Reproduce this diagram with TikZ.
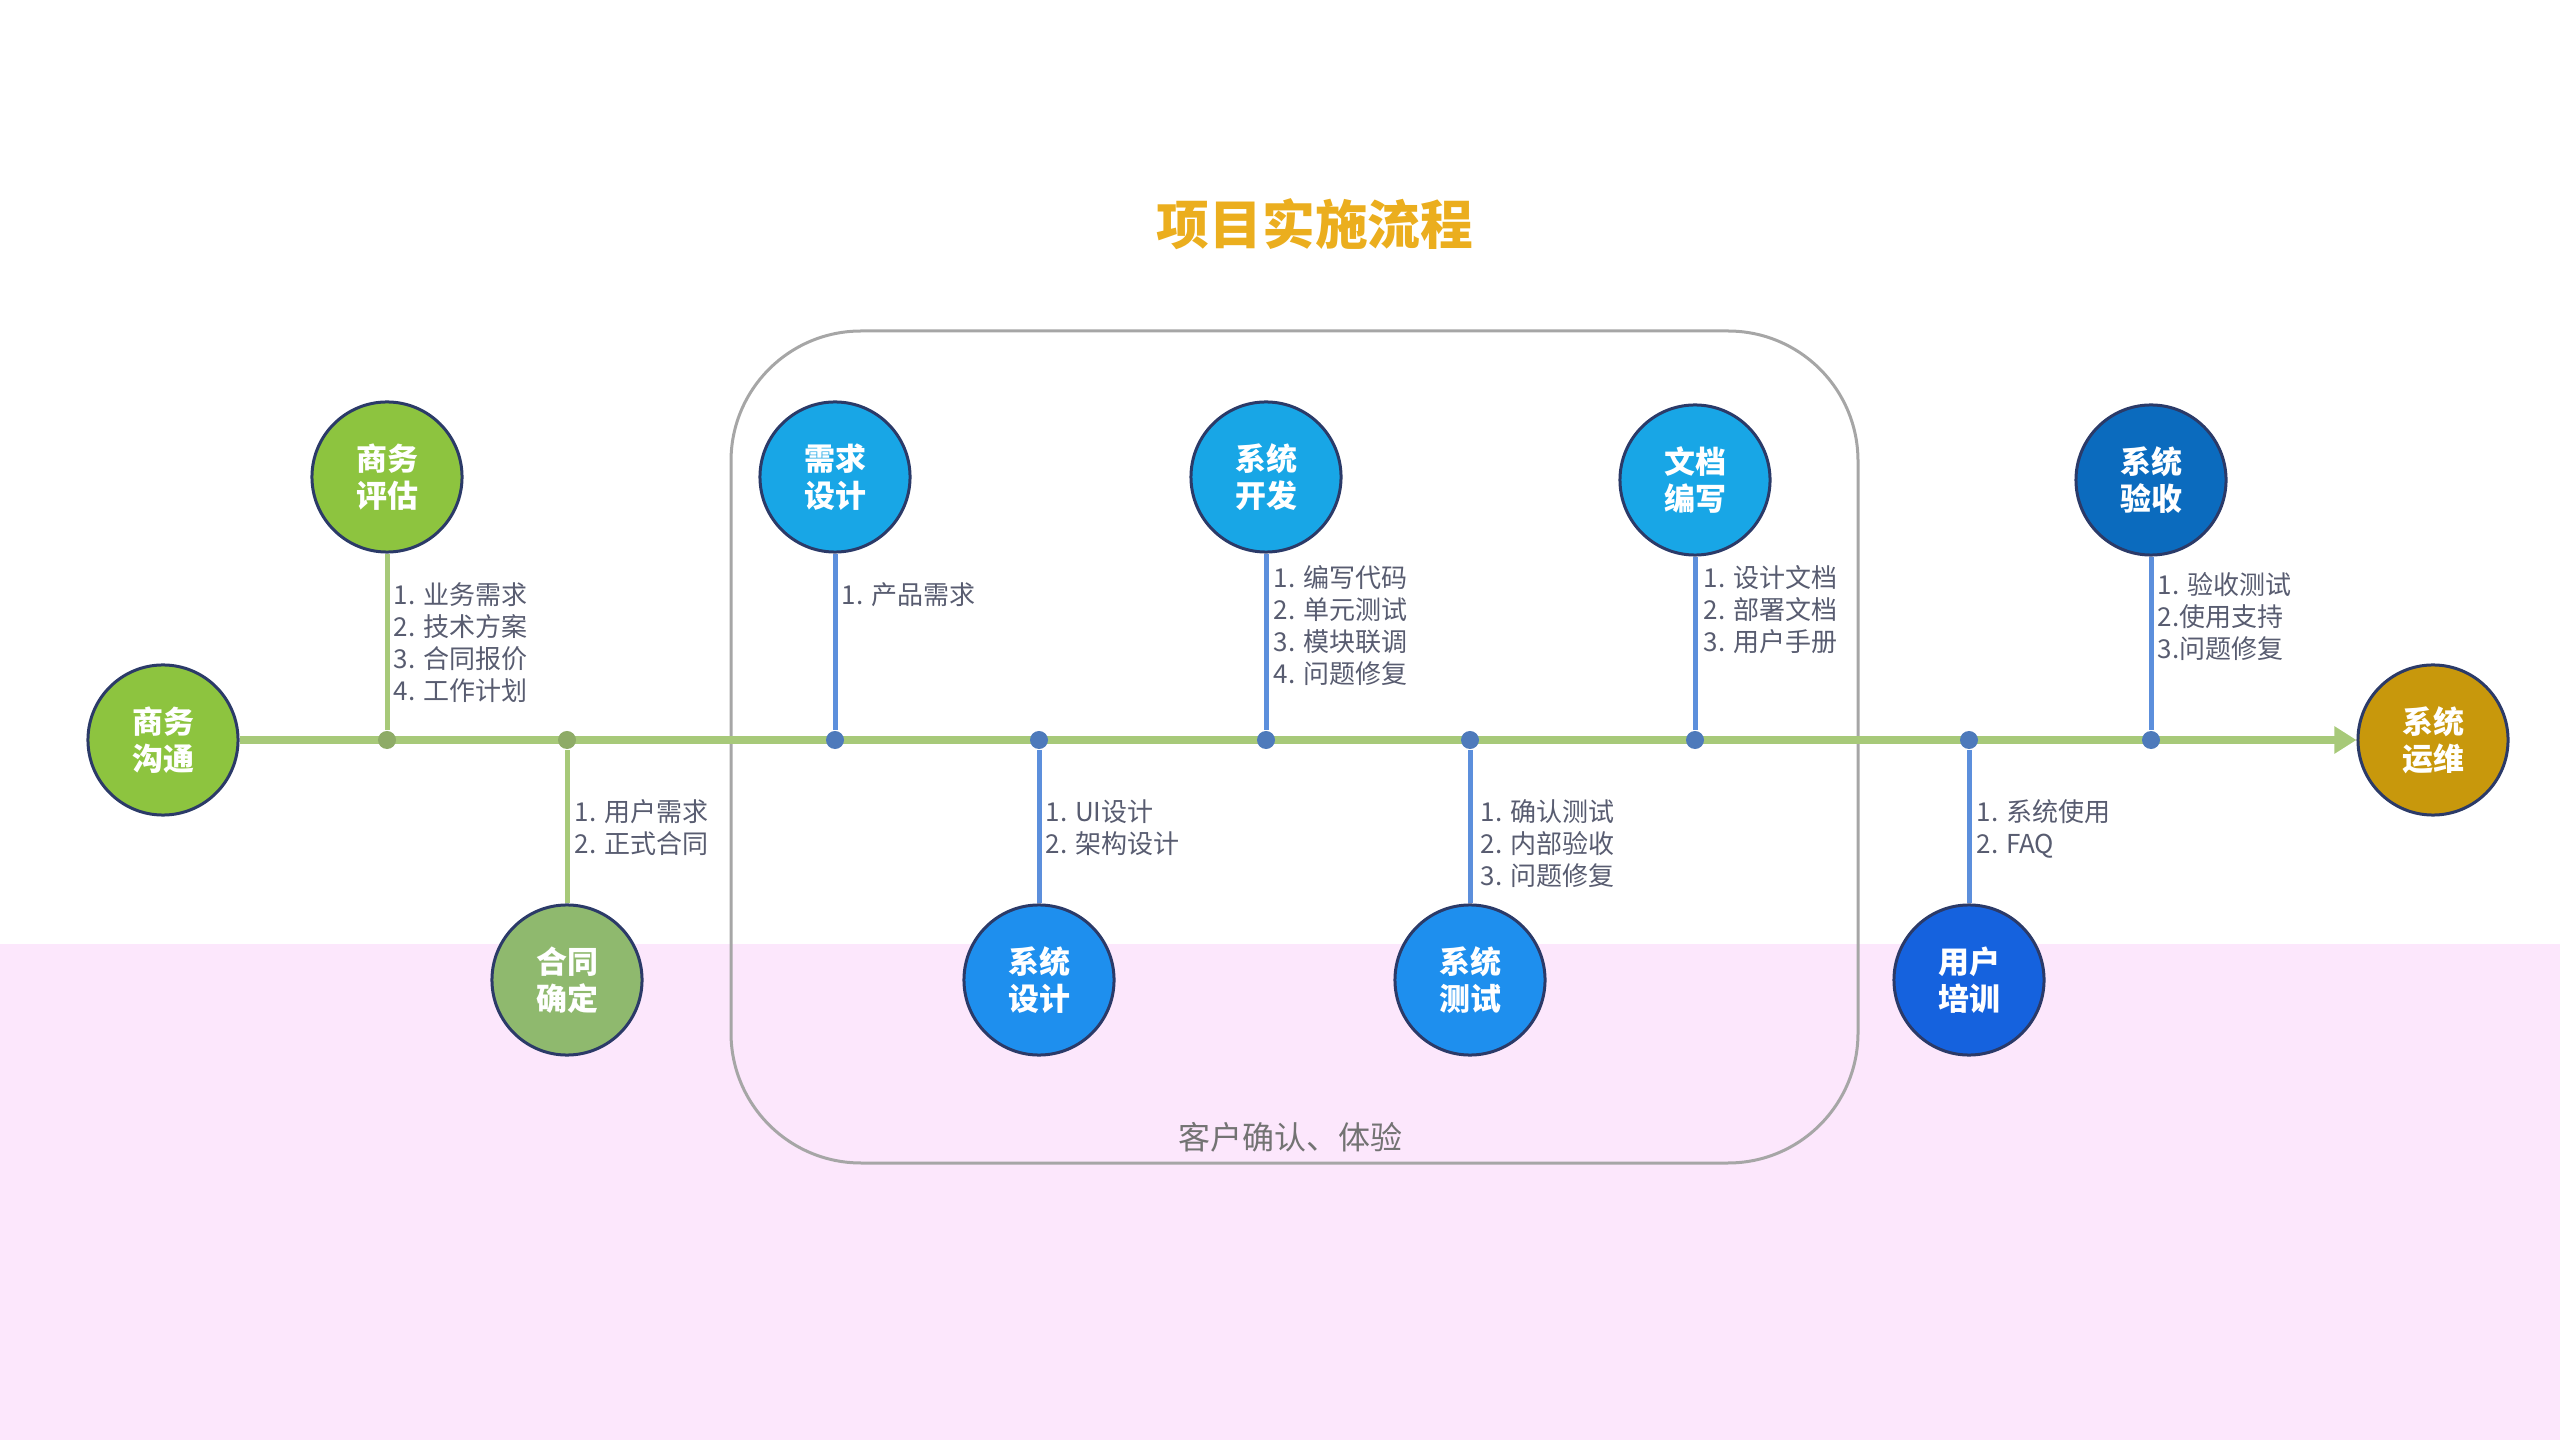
\documentclass[tikz,border=0pt]{standalone}
\usepackage{fontspec}
\setmainfont{Noto Sans CJK SC}
\usetikzlibrary{arrows.meta}
\definecolor{sgreen}{HTML}{8DC43F}
\definecolor{sgreenb}{HTML}{8FB96E}
\definecolor{sblue}{HTML}{18A6E6}
\definecolor{sbluem}{HTML}{1E8FEE}
\definecolor{sblued}{HTML}{1562DE}
\definecolor{sbluek}{HTML}{0B6BBE}
\definecolor{sgold}{HTML}{C8980C}
\definecolor{rim}{HTML}{2B3A68}
\definecolor{lgreen}{HTML}{A7C979}
\definecolor{lblue}{HTML}{5C8FDC}
\definecolor{notec}{HTML}{585C70}
\definecolor{titlec}{HTML}{EBAE1E}
\definecolor{pinkbg}{HTML}{FCE7FC}
\begin{document}
\begin{tikzpicture}[x=0.01cm, y=-0.01cm,
  stage/.style={circle, draw=rim, line width=0.03cm, minimum size=1.5cm, inner sep=0pt,
    text=white, align=center, font=\fontsize{8.8}{10.4}\selectfont\bfseries},
  note/.style={anchor=north west, inner sep=0pt, align=left, text=notec,
    font=\fontsize{7.4}{9.1}\selectfont},
  gstem/.style={lgreen, line width=0.05cm},
  bstem/.style={lblue, line width=0.05cm},
  gdot/.style={circle, fill=lgreen!85!black, minimum size=0.18cm, inner sep=0pt},
  bdot/.style={circle, fill=lblue!85!black, minimum size=0.18cm, inner sep=0pt}]
\useasboundingbox (0,0) rectangle (2560,1440);
\fill[pinkbg] (0,944) rectangle (2560,1440);
\node[text=titlec, font=\fontsize{15}{18}\selectfont\bfseries] (title) at (1315,224) {项目实施流程};
\draw[color=black!35, line width=0.03cm, rounded corners=1.3cm] (731,331) rectangle (1858,1163);
\node[text=black!55, font=\fontsize{9.1}{11}\selectfont] (kehu) at (1290,1137) {客户确认、体验};
% stages
\node[stage, fill=sgreen] (goutong) at (163,740) {商务\\沟通};
\node[stage, fill=sgreen] (pinggu) at (387,477) {商务\\评估};
\node[stage, fill=sgreenb] (hetong) at (567,980) {合同\\确定};
\node[stage, fill=sblue] (xuqiu) at (835,477) {需求\\设计};
\node[stage, fill=sbluem] (sheji) at (1039,980) {系统\\设计};
\node[stage, fill=sblue] (kaifa) at (1266,477) {系统\\开发};
\node[stage, fill=sbluem] (ceshi) at (1470,980) {系统\\测试};
\node[stage, fill=sblue] (wendang) at (1695,480) {文档\\编写};
\node[stage, fill=sblued] (peixun) at (1969,980) {用户\\培训};
\node[stage, fill=sbluek] (yanshou) at (2151,480) {系统\\验收};
\node[stage, fill=sgold] (yunwei) at (2433,740) {系统\\运维};
% timeline
\draw[lgreen, line width=0.08cm, -{Triangle[length=0.22cm, width=0.26cm]}] (goutong) -- (yunwei);
% stems
\node[gdot] (j1) at (387,740){};
\node[gdot] (j2) at (567,740){};
\node[bdot] (j3) at (835,740){};
\node[bdot] (j4) at (1039,740){};
\node[bdot] (j5) at (1266,740){};
\node[bdot] (j6) at (1470,740){};
\node[bdot] (j7) at (1695,740){};
\node[bdot] (j8) at (1969,740){};
\node[bdot] (j9) at (2151,740){};
\draw[gstem] (pinggu) -- (j1);
\draw[gstem] (hetong) -- (j2);
\draw[bstem] (xuqiu) -- (j3);
\draw[bstem] (sheji) -- (j4);
\draw[bstem] (kaifa) -- (j5);
\draw[bstem] (ceshi) -- (j6);
\draw[bstem] (wendang) -- (j7);
\draw[bstem] (peixun) -- (j8);
\draw[bstem] (yanshou) -- (j9);
% notes
\node[note] (n1) at (393,582) {1. 业务需求\\2. 技术方案\\3. 合同报价\\4. 工作计划};
\node[note] (n2) at (574,799) {1. 用户需求\\2. 正式合同};
\node[note] (n3) at (841,582) {1. 产品需求};
\node[note] (n4) at (1045,799) {1. UI设计\\2. 架构设计};
\node[note] (n5) at (1273,565) {1. 编写代码\\2. 单元测试\\3. 模块联调\\4. 问题修复};
\node[note] (n6) at (1480,799) {1. 确认测试\\2. 内部验收\\3. 问题修复};
\node[note] (n7) at (1703,565) {1. 设计文档\\2. 部署文档\\3. 用户手册};
\node[note] (n8) at (1976,799) {1. 系统使用\\2. FAQ};
\node[note] (n9) at (2157,572) {1. 验收测试\\2.使用支持\\3.问题修复};
\end{tikzpicture}
\end{document}
